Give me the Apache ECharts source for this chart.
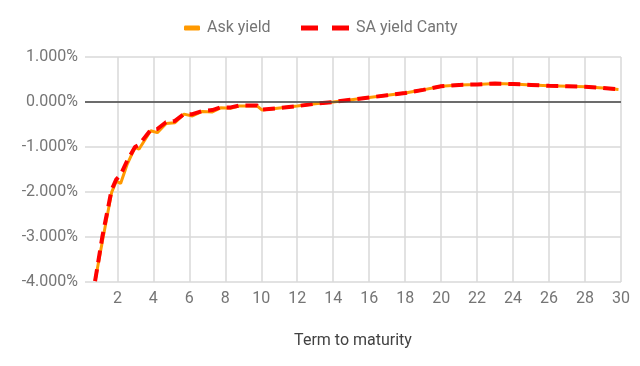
<!DOCTYPE html>
<html><head><meta charset="utf-8">
<script src="https://cdn.jsdelivr.net/npm/echarts@6/dist/echarts.min.js"></script>
<style>html,body{margin:0;padding:0;background:#fff}#c{width:640px;height:366px}</style>
</head><body><div id="c"></div>
<script>
const terms = [0.76,1.17,1.68,1.94,2.18,2.55,2.98,3.2,3.85,4.22,4.7,5.2,5.7,6.17,6.72,7.28,7.74,8.3,8.76,9.78,10.05,10.9,12,13,14,15,16,17,18,19,20,21,22,23,24,25,26,27,28,29,29.86];
const askYield = [-3.98,-3.09,-2.01,-1.76,-1.81,-1.38,-1.01,-1.05,-0.64,-0.68,-0.48,-0.46,-0.27,-0.31,-0.21,-0.22,-0.13,-0.14,-0.09,-0.09,-0.18,-0.14,-0.09,-0.04,0.0,0.05,0.10,0.15,0.20,0.27,0.35,0.38,0.39,0.41,0.40,0.38,0.36,0.35,0.34,0.31,0.28];
const cantyYield = [-3.98,-2.98,-1.95,-1.72,-1.62,-1.30,-1.00,-0.95,-0.62,-0.60,-0.45,-0.42,-0.27,-0.27,-0.20,-0.18,-0.12,-0.12,-0.08,-0.08,-0.17,-0.14,-0.09,-0.04,0.0,0.05,0.10,0.15,0.20,0.27,0.35,0.38,0.39,0.41,0.40,0.38,0.36,0.35,0.34,0.31,0.28];
const xTicks = [2,4,6,8,10,12,14,16,18,20,22,24,26,28,30];
const seriesNames = ['Ask yield','SA yield Canty'];

const chart = echarts.init(document.getElementById('c'));
const font = 'Roboto';
chart.setOption({
  animation:false,
  textStyle:{fontFamily:font},
  legend:[
    {data:[seriesNames[0]], left:179, top:15, itemWidth:16, itemHeight:5, itemGap:0,
     icon:'roundRect',
     textStyle:{color:'#757575', fontSize:16, fontFamily:font, padding:[0,0,0,2]}},
    {data:[seriesNames[1]], left:296, top:15, itemWidth:48, itemHeight:5,
     icon:'path://M0,0h17v5h-17z M31,0h17v5h-17z',
     textStyle:{color:'#757575', fontSize:16, fontFamily:font, padding:[0,0,0,2]}}
  ],
  grid:{left:85, right:19, top:57, bottom:84},
  xAxis:{type:'value', min:0.2, max:30,
    name:'Term to maturity', nameLocation:'middle', nameGap:51,
    nameTextStyle:{color:'#424242', fontSize:16, fontFamily:font},
    axisLine:{show:false}, axisTick:{show:false, customValues:xTicks},
    axisLabel:{customValues:xTicks, color:'#757575', fontSize:16, margin:9, fontFamily:font},
    splitLine:{show:true, lineStyle:{color:'#d9d9d9', width:1.5}}},
  yAxis:{type:'value', min:-4, max:1, interval:1,
    axisLine:{show:false}, axisTick:{show:false},
    axisLabel:{color:'#757575', fontSize:16, margin:7, fontFamily:font,
      formatter:v=>v.toFixed(3)+'%'},
    splitLine:{lineStyle:{color:'#d9d9d9', width:1.5}}},
  series:[
    {name:seriesNames[0], type:'line', data:terms.map((t,i)=>[t,askYield[i]]),
     symbol:'none', lineStyle:{color:'#ff9900', width:3}, itemStyle:{color:'#ff9900'},
     markLine:{silent:true, symbol:'none', label:{show:false},
       lineStyle:{color:'#444', width:1.5, type:'solid'}, data:[{yAxis:0}]}},
    {name:seriesNames[1], type:'line', data:terms.map((t,i)=>[t,cantyYield[i]]),
     symbol:'none', lineStyle:{color:'#ff0000', width:4, type:[12,7]}, itemStyle:{color:'#ff0000'}}
  ]
});
</script></body></html>
